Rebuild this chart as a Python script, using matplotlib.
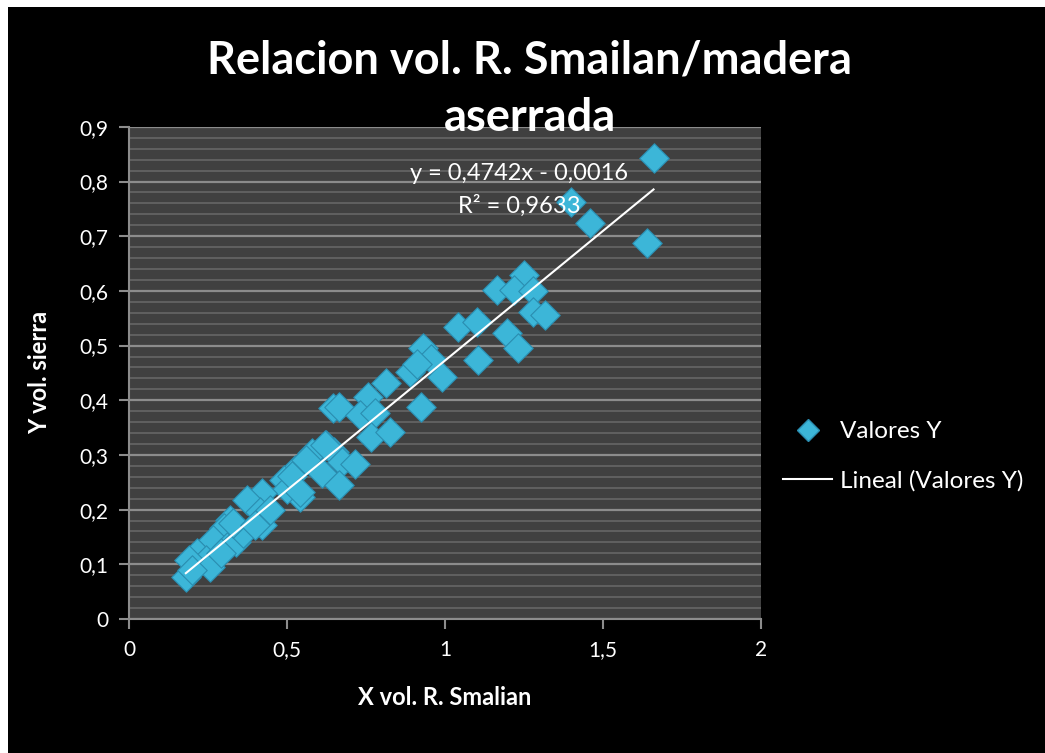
import numpy as np
import matplotlib.pyplot as plt
from matplotlib.ticker import FuncFormatter, MultipleLocator
from matplotlib.lines import Line2D
from matplotlib.patches import Rectangle

# valores
x_smalian = [1.66, 1.40, 1.46, 1.64, 1.25, 1.165, 1.22, 1.28, 1.28, 1.315,
             1.04, 1.10, 1.195, 1.23, 1.105, 0.93, 0.955, 0.89, 0.99, 0.925,
             0.91, 0.815, 0.755, 0.645, 0.665, 0.73, 0.78, 0.765, 0.825, 0.625,
             0.58, 0.65, 0.675, 0.715, 0.61, 0.665, 0.54, 0.525, 0.49, 0.50,
             0.515, 0.54, 0.42, 0.375, 0.415, 0.42, 0.32, 0.30, 0.265, 0.31,
             0.34, 0.215, 0.245, 0.19, 0.255, 0.18, 0.20, 0.29, 0.36, 0.445,
             0.33, 0.40, 0.62, 0.56]
y_sierra = [0.843, 0.763, 0.724, 0.688, 0.630, 0.602, 0.602, 0.600, 0.562, 0.556,
            0.534, 0.543, 0.523, 0.496, 0.474, 0.495, 0.476, 0.452, 0.443, 0.388,
            0.466, 0.432, 0.406, 0.386, 0.388, 0.373, 0.377, 0.333, 0.342, 0.318,
            0.303, 0.305, 0.287, 0.283, 0.267, 0.245, 0.223, 0.272, 0.255, 0.238,
            0.262, 0.232, 0.230, 0.218, 0.196, 0.172, 0.181, 0.166, 0.145, 0.132,
            0.141, 0.121, 0.108, 0.108, 0.095, 0.077, 0.090, 0.121, 0.157, 0.200,
            0.175, 0.172, 0.318, 0.290]
pendiente = 0.4742
intercepto = -0.0016
r2 = 0.9633

plt.rcParams['font.family'] = ['Lato', 'DejaVu Sans']

fig = plt.figure(figsize=(10.45, 7.53), dpi=100, facecolor='white')
fig.patches.append(Rectangle((8 / 1045, 0), 1, (753 - 7) / 753, transform=fig.transFigure,
                             facecolor='black', edgecolor='none', zorder=-10))

ax = fig.add_axes([0.1234, 0.178, 0.6048, 0.6535])
ax.set_facecolor('#404040')
ax.set_xlim(0, 2)
ax.set_ylim(0, 0.9)
ax.xaxis.set_major_locator(MultipleLocator(0.5))
ax.yaxis.set_major_locator(MultipleLocator(0.1))
ax.yaxis.set_minor_locator(MultipleLocator(0.02))
coma = FuncFormatter(lambda v, p: ('%g' % round(v, 2)).replace('.', ','))
ax.xaxis.set_major_formatter(coma)
ax.yaxis.set_major_formatter(coma)

ax.grid(axis='y', which='major', color='#8c8c8c', linewidth=1.6)
ax.grid(axis='y', which='minor', color='#666666', linewidth=1.2)
ax.set_axisbelow(True)
for s in ['top', 'right']:
    ax.spines[s].set_visible(False)
for s in ['left', 'bottom']:
    ax.spines[s].set_color('#8c8c8c')
    ax.spines[s].set_linewidth(1.5)
ax.tick_params(which='major', colors='#8c8c8c', labelcolor='white', labelsize=15,
               length=7, width=1.5, direction='out', pad=8)
ax.tick_params(which='minor', length=0)

ax.scatter(x_smalian, y_sierra, marker='D', s=15 ** 2, color='#3cb6d8',
           edgecolors='#2a8db0', linewidths=0.8, zorder=3)

xs = np.array([min(x_smalian), max(x_smalian)])
ax.plot(xs, pendiente * xs + intercepto, color='white', linewidth=1.5, zorder=4)

ax.text(1.235, 0.815, 'y = 0,4742x - 0,0016', color='white', fontsize=17,
        ha='center', va='center', zorder=5)
ax.text(1.235, 0.756, 'R² = 0,9633', color='white', fontsize=17,
        ha='center', va='center', zorder=5)

ax.set_xlabel('X vol. R. Smalian', color='white', fontsize=17, fontweight='bold', labelpad=19)
ax.set_ylabel('Y vol. sierra', color='white', fontsize=17, fontweight='bold', labelpad=20)

fig.text(0.507, 0.881, 'Relacion vol. R. Smailan/madera\naserrada', color='white',
         fontsize=32.5, fontweight='bold', ha='center', va='center', linespacing=1.45)

handles = [Line2D([], [], marker='D', linestyle='none', markersize=11, color='#3cb6d8',
                  markeredgecolor='#2a8db0'),
           Line2D([], [], color='white', linewidth=1.5)]
leg = fig.legend(handles, ['Valores Y', 'Lineal (Valores Y)'], loc='center left',
                 bbox_to_anchor=(0.728, 0.394), frameon=False, fontsize=17.5,
                 labelcolor='white', handlelength=2.05, labelspacing=1.15, handletextpad=0.3)

fig.savefig('out.png', dpi=100, facecolor='white')
